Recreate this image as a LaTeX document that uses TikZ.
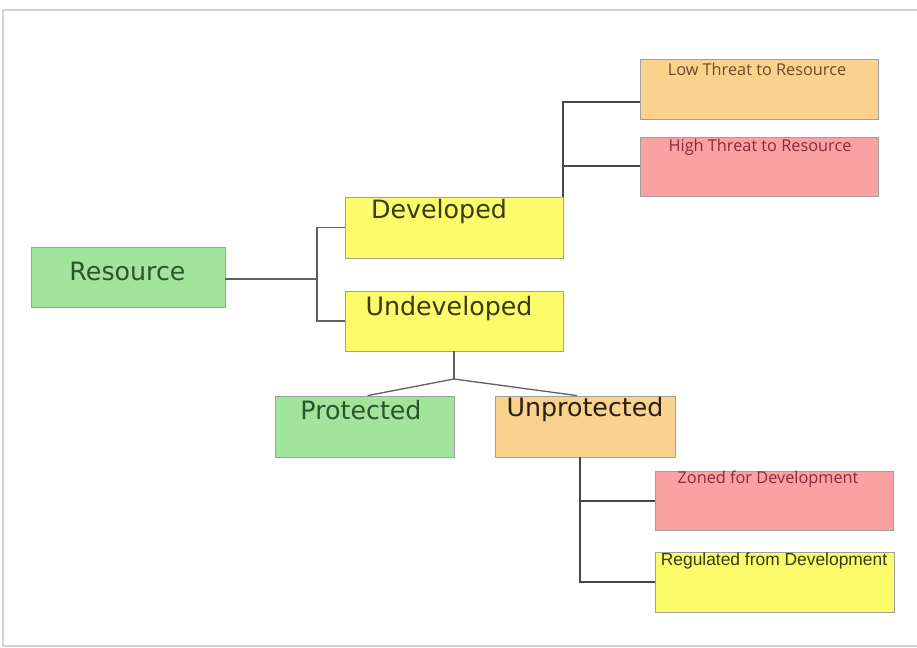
\documentclass[tikz,border=0pt]{standalone}
\usepackage{fontspec}
\setmainfont{DejaVu Sans}
\newfontfamily\myr{Open Sans}
\newfontfamily\ari{Liberation Sans}
\definecolor{cgreen}{HTML}{A3E49C}
\definecolor{cyellow}{HTML}{FCFC6A}
\definecolor{corange}{HTML}{FAD28E}
\definecolor{cpink}{HTML}{FAA2A2}
\definecolor{tgreen}{HTML}{2A552A}
\definecolor{tolive}{HTML}{3A3A12}
\definecolor{tbrown}{HTML}{6B4A2A}
\definecolor{tred}{HTML}{8A2A3A}
\definecolor{tdark}{HTML}{2A1F10}
\tikzset{
  box/.style={draw=gray!75, line width=0.8pt, rectangle, inner sep=0pt},
  bigtxt/.style={inner sep=0pt, font=\fontsize{25.3}{28}\selectfont},
  smalltxt/.style={inner sep=0pt, font=\myr\fontsize{16.3}{19}\selectfont},
  lightline/.style={draw=gray!75!black, line width=1.3pt},
  darkline/.style={draw=black!72, line width=2pt},
}
\begin{document}
\begin{tikzpicture}[x=1pt,y=-1pt]
\useasboundingbox (0,0) rectangle (917,647);
\fill[white] (0,0) rectangle (917,647);
\draw[gray!35, line width=1.5pt] (3,10) rectangle (918,646);
% boxes
\node[box, fill=cgreen, minimum width=194pt, minimum height=60pt] (res) at (128,277) {};
\node[box, fill=cyellow, minimum width=218pt, minimum height=61pt] (dev) at (454,227.5) {};
\node[box, fill=cyellow, minimum width=218pt, minimum height=60pt] (und) at (454,321) {};
\node[box, fill=cgreen, minimum width=179pt, minimum height=61pt] (pro) at (364.5,426.5) {};
\node[box, fill=corange, minimum width=180pt, minimum height=61pt] (unp) at (585,426.5) {};
\node[box, fill=corange, minimum width=238pt, minimum height=60pt] (low) at (759,89) {};
\node[box, fill=cpink, minimum width=238pt, minimum height=59pt] (high) at (759,166.5) {};
\node[box, fill=cpink, minimum width=238pt, minimum height=59pt] (zon) at (774,500.5) {};
\node[box, fill=cyellow, minimum width=239pt, minimum height=60pt] (reg) at (774.5,582) {};
% texts
\node[bigtxt, text=tgreen] (rest) at (127.5,271) {Resource};
\node[bigtxt, text=tolive] (devt) at (439,212) {Developed};
\node[bigtxt, text=tolive] (undt) at (449,309) {Undeveloped};
\node[bigtxt, text=tgreen] (prot) at (361,410) {Protected};
\node[bigtxt, text=tdark] (unpt) at (585,410) {Unprotected};
\node[smalltxt, text=tbrown] (lowt) at (757,69) {Low Threat to Resource};
\node[smalltxt, text=tred] (hight) at (760,147) {High Threat to Resource};
\node[smalltxt, text=tred] (zont) at (768,479) {Zoned for Development};
\node[inner sep=0pt, font=\ari\fontsize{17.4}{20}\selectfont, text=tolive] (regt) at (774,561) {Regulated from Development};
% connectors
\coordinate (j1) at (317,279);
\draw[lightline] (res.east |- j1) -- (j1);
\draw[lightline] (dev.west) -| (j1) |- (und.west);
\draw[darkline] (dev.north east) |- ([yshift=-13pt]low.west);
\draw[darkline] (dev.north east |- high.west) -- (high.west);
\coordinate (j2) at (454,379);
\draw[lightline] (und.south) -- (j2);
\draw[lightline] (j2) -- ([xshift=3pt]pro.north);
\draw[lightline] (j2) -- ([xshift=-8pt]unp.north);
\draw[darkline] ([xshift=-5pt]unp.south) |- (reg.west);
\draw[darkline] ([xshift=-5pt]unp.south |- zon.west) -- (zon.west);
\end{tikzpicture}
\end{document}
